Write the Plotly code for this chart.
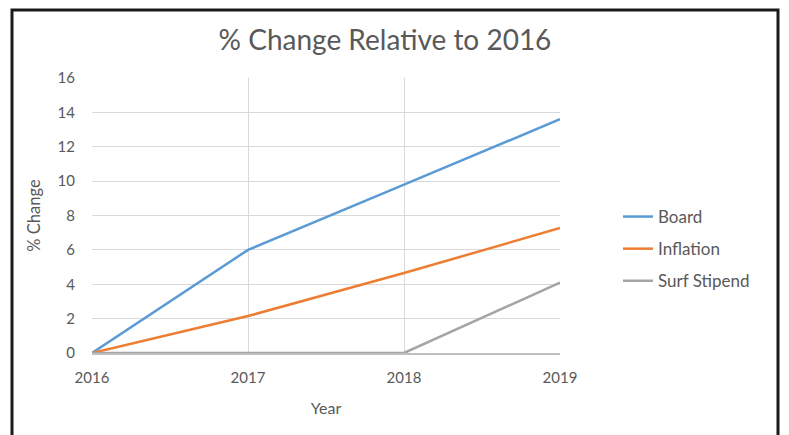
import plotly.graph_objects as go

years = [2016, 2017, 2018, 2019]
board = [0, 6.0, 9.8, 13.6]
inflation = [0, 2.15, 4.65, 7.27]
surf_stipend = [0, 0, 0, 4.1]
series_names = ["Board", "Inflation", "Surf Stipend"]
colors = ["#5b9bd5", "#ed7d31", "#a5a5a5"]

FONT = "Lato, Roboto, sans-serif"
L, R, T, B = 92, 229, 78, 82
W, H = 789, 435
pw, ph = W - L - R, H - T - B

fig = go.Figure()
for i, (name, vals) in enumerate(zip(series_names, [board, inflation, surf_stipend])):
    fig.add_trace(go.Scatter(x=years, y=vals, mode="lines", name=name,
                             legendgroup=name,
                             line=dict(color=colors[i], width=2.5)))

def px_x(px):
    return (px - L) / pw

def px_y(py):
    return (H - B - py) / ph

fig.update_layout(
    width=W, height=H,
    margin=dict(l=L, r=R, t=T, b=B),
    paper_bgcolor="white", plot_bgcolor="white",
    font=dict(family=FONT, color="#595959", size=14),
    title=dict(text="% Change Relative to 2016", x=385 / W, xanchor="center",
               y=1 - 40 / H, yanchor="middle",
               font=dict(size=28, color="#595959", family=FONT)),
    xaxis=dict(range=[2016, 2019], tickvals=years, ticktext=[str(y) for y in years],
               showgrid=True, gridcolor="#d9d9d9", gridwidth=1,
               showline=True, linecolor="#bfbfbf", linewidth=2,
               zeroline=False, ticks="", ticklen=0, ticklabelstandoff=10,
               title=dict(text="Year", standoff=18, font=dict(size=16)),
               tickfont=dict(size=15)),
    yaxis=dict(range=[0, 16], dtick=2, showgrid=True, gridcolor="#d9d9d9",
               gridwidth=1, zeroline=False, showline=False, ticks="",
               ticklabelstandoff=16,
               title=dict(text="% Change", standoff=12, font=dict(size=16.5)),
               tickfont=dict(size=15)),
    legend=dict(x=px_x(618), y=px_y(199), xanchor="left", yanchor="top",
                tracegroupgap=7, font=dict(size=17, color="#595959"),
                bgcolor="rgba(0,0,0,0)"),
    showlegend=True,
)

fig.add_shape(type="rect", xref="paper", yref="paper",
              x0=px_x(12), x1=px_x(778), y0=px_y(10), y1=px_y(445),
              line=dict(color="#1a1a1a", width=3), fillcolor="rgba(0,0,0,0)")

fig.write_html("out.html", config={"displayModeBar": False},
               post_script="document.body.style.margin='0';document.body.style.padding='0';")
